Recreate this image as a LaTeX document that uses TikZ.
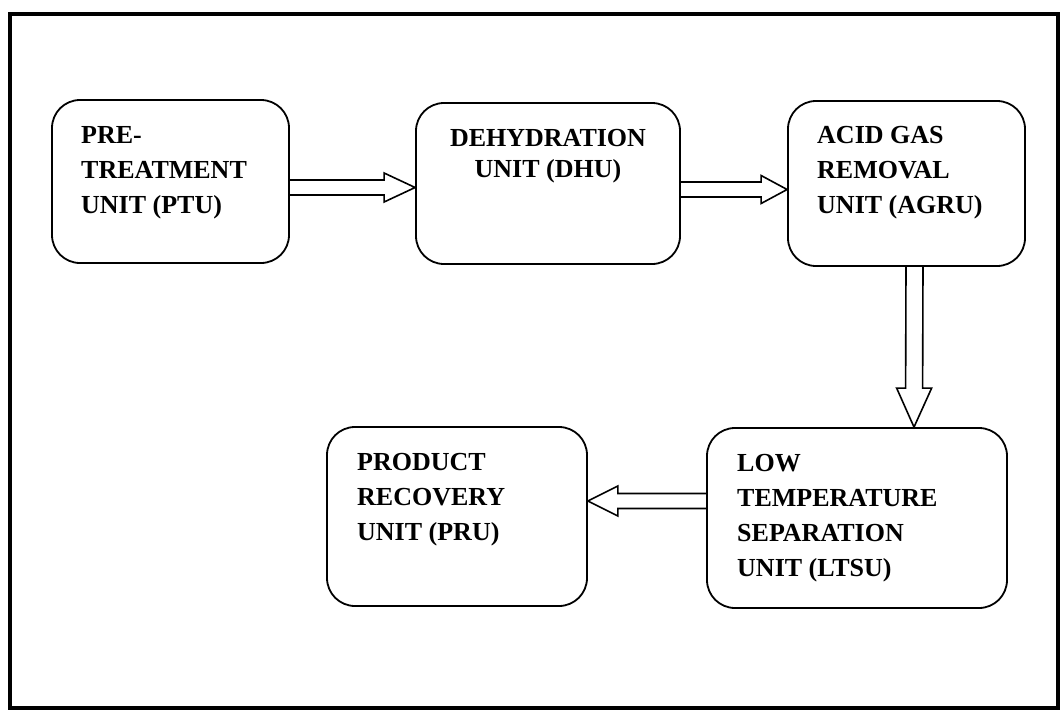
\documentclass[tikz,border=0pt]{standalone}
\usepackage{fontspec}
\setmainfont{Liberation Serif}
\usetikzlibrary{calc}
\tikzset{
  unitbox/.style={draw, line width=1.8pt, rounded corners=28pt, inner sep=0pt},
  txt/.style={font=\fontsize{26pt}{35pt}\selectfont\bfseries, inner sep=0pt, align=left, anchor=base west},
  arrowline/.style={draw, line width=1.6pt, line join=miter},
  hollow/.style n args={3}{to path={
    let \p1=(\tikztostart), \p2=(\tikztotarget), \p3=($(\p2)!#3!(\p1)$) in
    ($(\p1)!#1!90:(\p2)$) -- ($(\p3)!#1!90:(\p2)$) -- ($(\p3)!#2!90:(\p2)$) -- (\p2)
    -- ($(\p3)!#2!-90:(\p2)$) -- ($(\p3)!#1!-90:(\p2)$) -- ($(\p1)!#1!-90:(\p2)$)
  }}
}
\begin{document}
\begin{tikzpicture}[x=1pt, y=-1pt]
\useasboundingbox (0,0) rectangle (1061,710);
% outer frame
\node[draw, line width=3.5pt, inner sep=0pt, minimum width=1048pt, minimum height=694pt] (frame) at (534,361) {};
% unit boxes
\node[unitbox, minimum width=237pt, minimum height=163pt] (ptu)  at (170.5,181.5) {};
\node[unitbox, minimum width=264pt, minimum height=161pt] (dhu)  at (548,183.5) {};
\node[unitbox, minimum width=237pt, minimum height=165pt] (agru) at (906.5,183.5) {};
\node[unitbox, minimum width=300pt, minimum height=180pt] (ltsu) at (857,518) {};
\node[unitbox, minimum width=260pt, minimum height=179pt] (pru)  at (457,516.5) {};
% texts (base anchor = baseline of last line)
\node[txt] (ptut) at (81,213) {PRE-\\TREATMENT\\UNIT (PTU)};
\node[txt, align=center, anchor=base] (dhut) at (548,177) {DEHYDRATION\\[-4pt]UNIT (DHU)};
\node[txt] (agrut) at (817,213) {ACID GAS\\REMOVAL\\UNIT (AGRU)};
\node[txt] (prut) at (357,540) {PRODUCT\\RECOVERY\\UNIT (PRU)};
\node[txt] (ltsut) at (737,576) {LOW\\TEMPERATURE\\SEPARATION\\UNIT (LTSU)};
% hollow arrows
\draw[arrowline, hollow={7.5pt}{14.5pt}{31pt}] ($(ptu.east)+(0,6)$) to ($(dhu.west)+(0,4)$);
\draw[arrowline, hollow={7.5pt}{14pt}{26pt}] ($(dhu.east)+(0,6)$) to ($(agru.west)+(0,6)$);
\draw[arrowline, hollow={8.5pt}{17.5pt}{39pt}] ($(agru.south)+(8,0)$) to ($(ltsu.north)+(57,0)$);
\draw[arrowline, hollow={7.5pt}{15pt}{30pt}] ($(ltsu.west)+(0,-17)$) to ($(pru.east)+(0,-15.5)$);
\end{tikzpicture}
\end{document}
